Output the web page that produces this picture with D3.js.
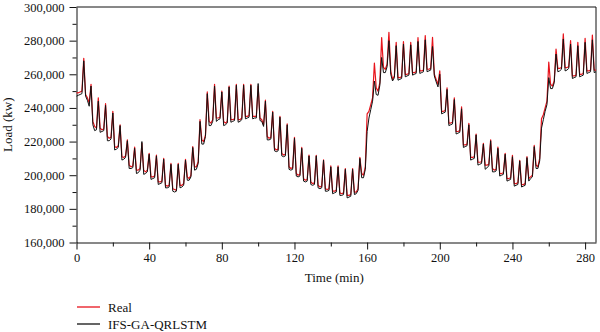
<!DOCTYPE html>
<html>
<head>
<meta charset="utf-8">
<script src="https://cdn.jsdelivr.net/npm/d3@7"></script>
<style>
  html, body { margin: 0; padding: 0; background: #fff; }
  svg { display: block; }
  text { font-family: "Liberation Serif", "DejaVu Serif", serif; fill: #111; }
</style>
</head>
<body>
<svg id="chart" width="600" height="332"></svg>
<script>
// ---- data (load in kW, one value per time step) ----
const realLoad = [
  249000, 249000, 249500, 250000,
  269500, 248000, 246000, 243000,
  254000, 232000, 229000, 228000,
  246000, 228000, 227000, 227500,
  242500, 223000, 222000, 222500,
  238000, 217000, 216500, 217500,
  230000, 211000, 210500, 211500,
  221000, 206000, 205000, 205500,
  216700, 203000, 203000, 204000,
  219000, 203000, 202000, 203000,
  213000, 199000, 199000, 199500,
  212000, 196000, 196000, 196500,
  210000, 194000, 193500, 194000,
  207000, 192000, 191500, 191000,
  207000, 194000, 194000, 195000,
  209400, 199000, 198000, 200000,
  217000, 205000, 205000, 208000,
  233000, 221000, 220000, 224000,
  249500, 232000, 231000, 233000,
  254000, 234000, 234000, 234500,
  250000, 232000, 231000, 232000,
  253000, 233000, 233000, 233500,
  254000, 233000, 233000, 234000,
  254000, 235000, 235000, 235500,
  254000, 235000, 235000, 235000,
  253000, 234000, 233000, 230000,
  244600, 223000, 222000, 222500,
  238000, 216000, 215000, 215500,
  235000, 213000, 212000, 212500,
  230500, 205000, 204000, 204500,
  222500, 201000, 200000, 200500,
  216500, 198000, 197000, 197500,
  212000, 196000, 195000, 195500,
  211800, 194000, 193000, 193500,
  209200, 192000, 191500, 192000,
  205500, 190500, 190500, 191000,
  205500, 189500, 189000, 189500,
  204000, 188000, 188000, 188500,
  204000, 190000, 190000, 192000,
  210600, 201000, 200000, 205000,
  236500, 238000, 242000, 246000,
  266700, 252000, 250000, 255000,
  281800, 264000, 263000, 266000,
  285000, 262000, 257000, 259000,
  279000, 258000, 258000, 258500,
  279500, 260000, 260000, 260500,
  279000, 261000, 261000, 261500,
  281800, 262000, 262000, 262500,
  283000, 263000, 263000, 263500,
  282000, 260000, 257000, 254000,
  262000, 238000, 238000, 238500,
  252000, 231000, 231000, 231500,
  246000, 226000, 226000, 226500,
  240600, 218000, 218000, 218500,
  230800, 210600, 210600, 211000,
  224500, 207700, 207700, 208000,
  219000, 206000, 206000, 206500,
  221000, 204000, 203000, 203500,
  216700, 201000, 201000, 201500,
  213000, 198000, 198000, 198500,
  211800, 195000, 195000, 195500,
  208800, 194400, 194400, 195000,
  211000, 198000, 199000, 200000,
  217700, 206000, 205000, 210000,
  233600, 236000, 240000, 244000,
  267300, 254000, 253000, 256000,
  275000, 263500, 263500, 264000,
  284000, 264000, 264000, 264500,
  280000, 259000, 259000, 259500,
  279000, 260000, 260000, 260500,
  281400, 262000, 262000, 262500,
  283300, 262500, 262500
];

const predLoad = [
  247000, 247500, 248000, 248500,
  268000, 247000, 244500, 241000,
  253000, 230000, 226500, 227000,
  244000, 225500, 226000, 226500,
  241500, 220500, 220500, 221500,
  237000, 215000, 215500, 216500,
  229500, 209000, 209500, 210500,
  220500, 204000, 204000, 204500,
  216000, 201000, 201500, 203000,
  220000, 200500, 201000, 202000,
  212500, 197500, 198000, 198500,
  211500, 194500, 195000, 195500,
  209500, 192500, 192500, 193000,
  206500, 190500, 190000, 190500,
  206500, 192500, 193000, 194000,
  209000, 197000, 197000, 199000,
  216500, 203000, 203500, 207000,
  232000, 218500, 218500, 223000,
  248500, 229500, 229500, 232000,
  253000, 232000, 233000, 233500,
  249500, 229500, 230000, 231000,
  252500, 231500, 232000, 232500,
  253500, 231500, 232000, 233000,
  253500, 233500, 234000, 234500,
  253500, 233500, 234000, 234000,
  254500, 232500, 232000, 229000,
  244000, 221000, 221000, 221500,
  237500, 214500, 214000, 214500,
  234500, 211500, 211000, 211500,
  230000, 203500, 203000, 203500,
  222000, 199500, 199000, 199500,
  216000, 196500, 196000, 196500,
  211500, 194500, 194000, 194500,
  211500, 192500, 192000, 192500,
  209000, 190500, 190500, 191000,
  205000, 189000, 189500, 190000,
  205000, 188000, 188000, 188500,
  203500, 186500, 187000, 187500,
  203500, 188500, 189000, 191000,
  210000, 198500, 198500, 203500,
  226000, 234000, 239000, 244000,
  256000, 248000, 247500, 253500,
  270000, 261000, 261000, 264500,
  280000, 260000, 256000, 258000,
  277000, 256500, 257000, 257500,
  278000, 258500, 259000, 259500,
  277500, 259500, 260000, 260500,
  279500, 260500, 261000, 261500,
  280500, 261500, 262000, 262500,
  276500, 259000, 255500, 252500,
  260000, 236500, 237000, 237500,
  251000, 229500, 230000, 230500,
  245000, 224500, 225000, 225500,
  239500, 216500, 217000, 217500,
  230000, 209000, 209500, 210000,
  224000, 206000, 206500, 207000,
  218500, 203500, 204500, 205500,
  220500, 202000, 202000, 202500,
  216000, 199500, 200000, 200500,
  212500, 196500, 197000, 197500,
  211000, 193500, 194000, 194500,
  208500, 193000, 193500, 194000,
  210500, 196500, 198000, 199000,
  217000, 204000, 204000, 208500,
  228000, 233000, 238000, 242000,
  258000, 251500, 251500, 255000,
  272000, 261500, 262000, 263000,
  281000, 262000, 262500, 263500,
  278000, 257500, 258000, 258500,
  277000, 258500, 259000, 259500,
  279000, 260500, 261000, 261500,
  280500, 261000, 261500
];

const xTicks = [0, 40, 80, 120, 160, 200, 240, 280];
const yTicks = [160000, 180000, 200000, 220000, 240000, 260000, 280000, 300000];
const seriesNames = ["Real", "IFS-GA-QRLSTM"];
const seriesColors = ["#e8141c", "#111111"];

// ---- layout ----
const svg = d3.select("#chart");
const L = 76.5, R = 596, T = 7, B = 242.5;

const x = d3.scaleLinear().domain([0, 286]).range([L, R]);
const y = d3.scaleLinear().domain([160000, 300000]).range([B, T]);

// frame (top & right)
svg.append("line").attr("x1", L).attr("x2", R).attr("y1", T).attr("y2", T)
  .attr("stroke", "#111").attr("stroke-width", 1);
svg.append("line").attr("x1", R).attr("x2", R).attr("y1", T).attr("y2", B)
  .attr("stroke", "#111").attr("stroke-width", 1);

// minor ticks
const xMinor = d3.range(0, 287, 20).filter(v => v % 40 !== 0);
const yMinor = d3.range(170000, 300000, 20000);

const xAxisMinor = svg.append("g").attr("transform", `translate(0,${B})`)
  .call(d3.axisBottom(x).tickValues(xMinor).tickSize(4).tickFormat(""));
xAxisMinor.select(".domain").remove();
const yAxisMinor = svg.append("g").attr("transform", `translate(${L},0)`)
  .call(d3.axisLeft(y).tickValues(yMinor).tickSize(4).tickFormat(""));
yAxisMinor.select(".domain").remove();

// major axes
const xAxis = svg.append("g").attr("transform", `translate(0,${B})`)
  .call(d3.axisBottom(x).tickValues(xTicks).tickSize(7).tickPadding(4).tickSizeOuter(0));
const yAxis = svg.append("g").attr("transform", `translate(${L},0)`)
  .call(d3.axisLeft(y).tickValues(yTicks).tickFormat(d3.format(",")).tickSize(7).tickPadding(5).tickSizeOuter(0));

svg.selectAll("g").attr("font-family", '"Liberation Serif", serif');
svg.selectAll(".domain, .tick line").attr("stroke", "#111").attr("stroke-width", 1);
svg.selectAll(".tick text").style("font-family", '"Liberation Serif", serif')
  .style("font-size", "12.5px").attr("fill", "#111");

// axis titles
svg.append("text").attr("x", (L + R) / 2 - 2).attr("y", 282)
  .attr("text-anchor", "middle").style("font-size", "13px").text("Time (min)");
svg.append("text").attr("transform", `translate(12,${(T + B) / 2}) rotate(-90)`)
  .attr("text-anchor", "middle").style("font-size", "13px").text("Load (kw)");

// lines
const line = d3.line().x((d, i) => x(i)).y(d => y(d));
const g = svg.append("g");
[realLoad, predLoad].forEach((arr, k) => {
  g.append("path").datum(arr)
    .attr("fill", "none")
    .attr("stroke", seriesColors[k])
    .attr("stroke-width", k === 0 ? 1.2 : 1.0)
    .attr("stroke-linejoin", "round")
    .attr("d", line);
});

// legend
const legY = [307, 324];
seriesNames.forEach((name, k) => {
  svg.append("line").attr("x1", 77).attr("x2", 100)
    .attr("y1", legY[k]).attr("y2", legY[k])
    .attr("stroke", seriesColors[k]).attr("stroke-width", 1.3);
  svg.append("text").attr("x", 108).attr("y", legY[k] + 4.5)
    .style("font-size", "13px").text(name);
});
</script>
</body>
</html>
